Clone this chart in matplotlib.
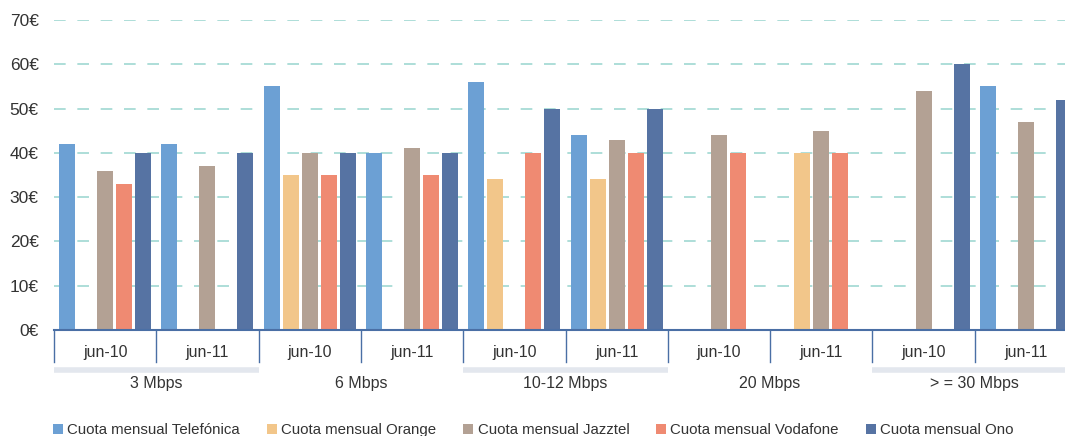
import numpy as np
import matplotlib
matplotlib.use("Agg")
import matplotlib.pyplot as plt
from matplotlib.transforms import blended_transform_factory
from matplotlib.patches import Patch

plt.rcParams['font.family'] = ['Liberation Sans', 'DejaVu Sans']

groups = ["3 Mbps", "6 Mbps", "10-12 Mbps", "20 Mbps", "> = 30 Mbps"]
periods = ["jun-10", "jun-11"]
series = ["Cuota mensual Telefónica", "Cuota mensual Orange", "Cuota mensual Jazztel",
          "Cuota mensual Vodafone", "Cuota mensual Ono"]
nan = np.nan
telefonica = [42, 42, 55, 40, 56, 44, nan, nan, nan, 55]
orange     = [nan, nan, 35, nan, 34, 34, nan, 40, nan, nan]
jazztel    = [36, 37, 40, 41, nan, 43, 44, 45, 54, 47]
vodafone   = [33, nan, 35, 35, 40, 40, 40, 40, nan, nan]
ono        = [40, 40, 40, 40, 50, 50, nan, nan, 60, 52]
yticks = [0, 10, 20, 30, 40, 50, 60, 70]

colors = ["#6ca0d4", "#f2c68a", "#b3a194", "#ef8a72", "#5673a3"]
values = [telefonica, orange, jazztel, vodafone, ono]

W, H = 1065, 436
fig = plt.figure(figsize=(W/100, H/100), dpi=100)
ax = fig.add_axes([54/W, (H-330)/H, 1023/W, 310/H])

n = len(telefonica)
x = np.arange(n)
slot = 19/102.3
bw = 16/102.3
for k, (vals, c) in enumerate(zip(values, colors)):
    ax.bar(x + (k-2)*slot, vals, width=bw, color=c, edgecolor='none', zorder=3)

ax.set_xlim(-0.5, n-0.5)
ax.set_ylim(0, 70)
ax.set_yticks(yticks)
ax.set_yticklabels([f"{v}€" for v in yticks], fontsize=12.5, color="#333333")
ax.tick_params(axis='y', length=0, pad=11)
ax.set_xticks([])
for v in yticks[1:]:
    ax.axhline(v, color="#9fd8d2", lw=1.2, dashes=(7, 7), zorder=1)
for s in ['top', 'right', 'left']:
    ax.spines[s].set_visible(False)
ax.spines['bottom'].set_color("#4a6fa5")
ax.spines['bottom'].set_linewidth(1.5)
ax.spines['bottom'].set_zorder(4)

tr = blended_transform_factory(ax.transData, fig.transFigure)
def fy(py):
    return (H-py)/H

# vertical separators
for b in np.arange(-0.5, n, 1.0):
    ax.plot([b, b], [fy(330), fy(362)], transform=tr, color="#4a6fa5", lw=1.0, clip_on=False)
# period labels
for i in range(n):
    ax.text(i, fy(352), periods[i % 2], transform=tr, ha='center', va='center',
            fontsize=11.5, color="#333333")
# group bands and labels
for g, name in enumerate(groups):
    c = 2*g + 0.5
    if g % 2 == 0:
        ax.plot([2*g-0.5, 2*g+1.5], [fy(370), fy(370)], transform=tr, color="#e3e7ee",
                lw=4, clip_on=False, solid_capstyle='butt')
    ax.text(c, fy(383), name, transform=tr, ha='center', va='center', fontsize=11.5, color="#333333")

handles = [Patch(facecolor=c, edgecolor='none') for c in colors]
fig.legend(handles, series, loc='center left', bbox_to_anchor=(53/W, fy(430)), ncol=5,
           frameon=False, fontsize=10.8, handlelength=0.65, handleheight=0.65,
           handletextpad=0.3, columnspacing=1.8, borderpad=0, borderaxespad=0,
           labelcolor="#333333")

fig.savefig("out.png", dpi=100)
